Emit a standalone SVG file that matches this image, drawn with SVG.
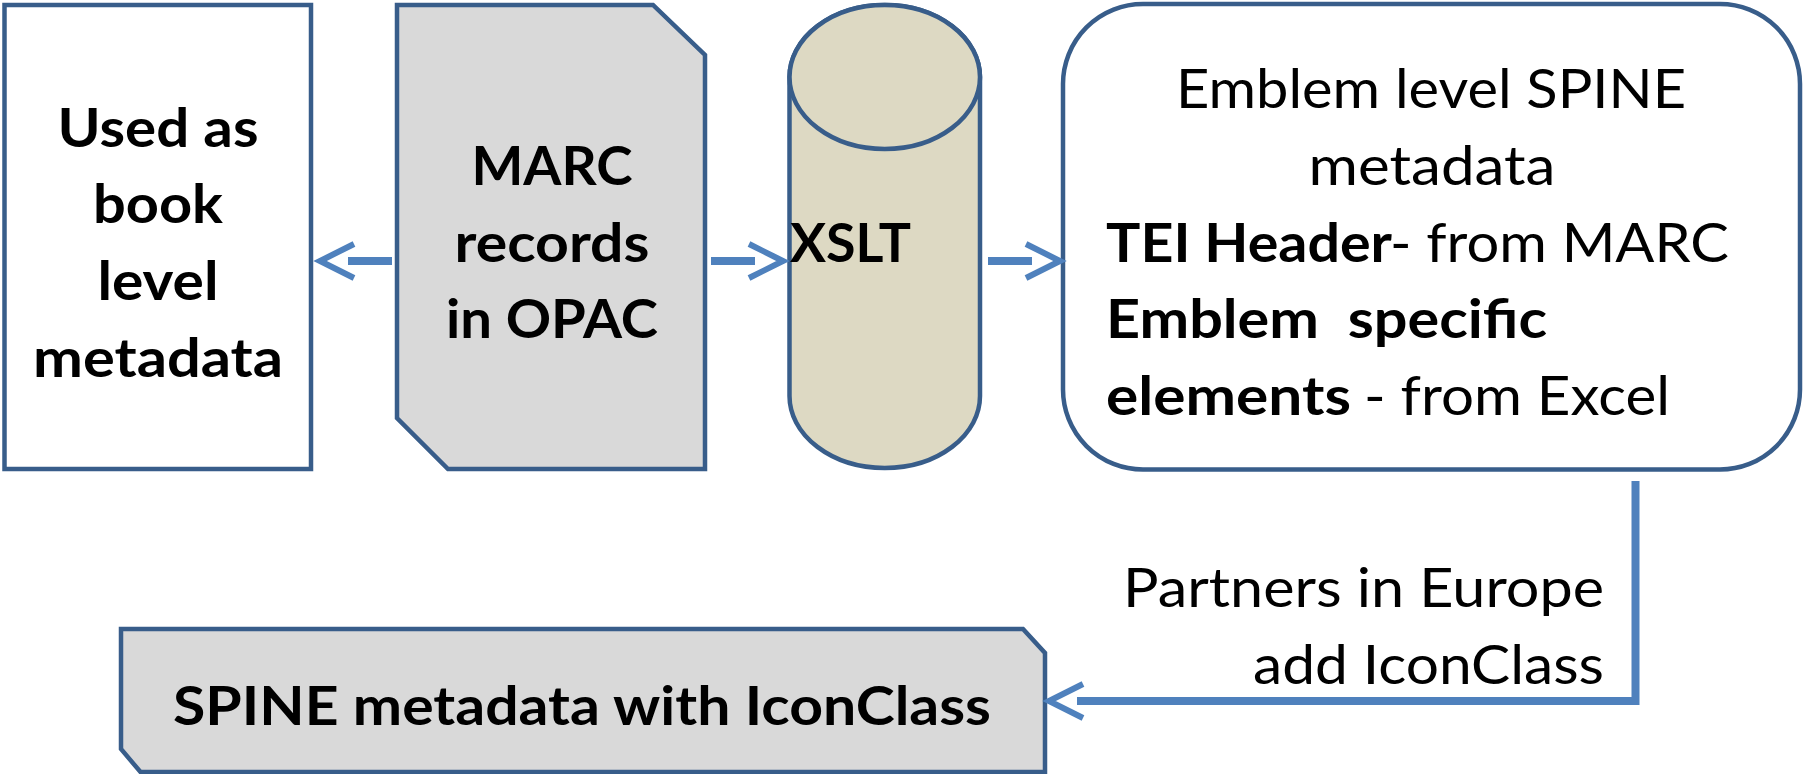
<svg xmlns="http://www.w3.org/2000/svg" width="1806" height="774" viewBox="0 0 1806 774">
<style>
.node{stroke:#385D8A;stroke-width:4.5;stroke-linejoin:miter}
.t{font-family:Lato,"Liberation Sans",sans-serif;font-size:54px;fill:#000}
.b{font-weight:bold}
.c{text-anchor:middle}
.e{text-anchor:end}
.conn{fill:none;stroke:#4F81BD;stroke-width:8}
</style>
<defs>
<marker id="head" markerUnits="userSpaceOnUse" viewBox="-2 -22 42 44" markerWidth="42" markerHeight="44" refX="6" refY="0" orient="auto" overflow="visible">
<polyline points="0,-17 34,0 0,17" fill="none" stroke="#4F81BD" stroke-width="6"/>
</marker>
</defs>
<rect width="1806" height="774" fill="#fff"/>
<g id="book-level">
<rect class="node" x="4.5" y="5" width="306.5" height="464" fill="#fff"/>
<text class="t b c" x="158" y="147" textLength="201" lengthAdjust="spacingAndGlyphs">Used as</text>
<text class="t b c" x="158" y="223" textLength="130" lengthAdjust="spacingAndGlyphs">book</text>
<text class="t b c" x="158" y="300" textLength="121" lengthAdjust="spacingAndGlyphs">level</text>
<text class="t b c" x="158" y="377" textLength="250" lengthAdjust="spacingAndGlyphs">metadata</text>
</g>
<g id="marc">
<polygon class="node" points="397,5 653,5 705,55 705,469 448,469 397,418" fill="#D9D9D9"/>
<text class="t b c" x="552" y="185" textLength="161" lengthAdjust="spacingAndGlyphs">MARC</text>
<text class="t b c" x="552" y="262" textLength="195" lengthAdjust="spacingAndGlyphs">records</text>
<text class="t b c" x="552" y="338" textLength="212" lengthAdjust="spacingAndGlyphs">in OPAC</text>
</g>
<g id="xslt">
<path class="node" d="M789.5,77 A95.25,72 0 0 1 980,77 L980,396 A95.25,72 0 0 1 789.5,396 Z" fill="#DDD9C3"/>
<ellipse class="node" cx="884.75" cy="77" rx="95.25" ry="72" fill="#DDD9C3"/>
<text class="t b" x="790" y="262" textLength="121" lengthAdjust="spacingAndGlyphs">XSLT</text>
</g>
<g id="emblem">
<rect class="node" x="1063" y="4" width="737" height="465.5" rx="80" ry="80" fill="#fff"/>
<text class="t c" x="1431" y="108" textLength="510" lengthAdjust="spacingAndGlyphs">Emblem level SPINE</text>
<text class="t c" x="1432" y="185" textLength="247" lengthAdjust="spacingAndGlyphs">metadata</text>
<text class="t b" x="1106" y="262" textLength="286" lengthAdjust="spacingAndGlyphs">TEI Header</text>
<text class="t" x="1390" y="262" textLength="339" lengthAdjust="spacingAndGlyphs">- from MARC</text>
<text class="t b" x="1106" y="338" textLength="441" lengthAdjust="spacingAndGlyphs" xml:space="preserve">Emblem  specific</text>
<text class="t b" x="1106" y="415" textLength="245" lengthAdjust="spacingAndGlyphs">elements</text>
<text class="t" x="1364" y="415" textLength="306" lengthAdjust="spacingAndGlyphs">- from Excel</text>
</g>
<g id="spine-iconclass">
<polygon class="node" points="121,629 1023,629 1045,653 1045,772 140.5,772 121,749" fill="#D9D9D9"/>
<text class="t b c" x="582" y="725" textLength="818" lengthAdjust="spacingAndGlyphs">SPINE metadata with IconClass</text>
</g>
<g id="connectors">
<line class="conn" x1="392" y1="261" x2="348" y2="261" marker-end="url(#head)"/>
<line class="conn" x1="711" y1="261" x2="755" y2="261" marker-end="url(#head)"/>
<line class="conn" x1="988" y1="261" x2="1032" y2="261" marker-end="url(#head)"/>
<path class="conn" d="M1635.5,481 L1635.5,701 L1077,701" marker-end="url(#head)"/>
<text class="t e" x="1604" y="607" textLength="481" lengthAdjust="spacingAndGlyphs">Partners in Europe</text>
<text class="t e" x="1604" y="684" textLength="351" lengthAdjust="spacingAndGlyphs">add IconClass</text>
</g>
</svg>
